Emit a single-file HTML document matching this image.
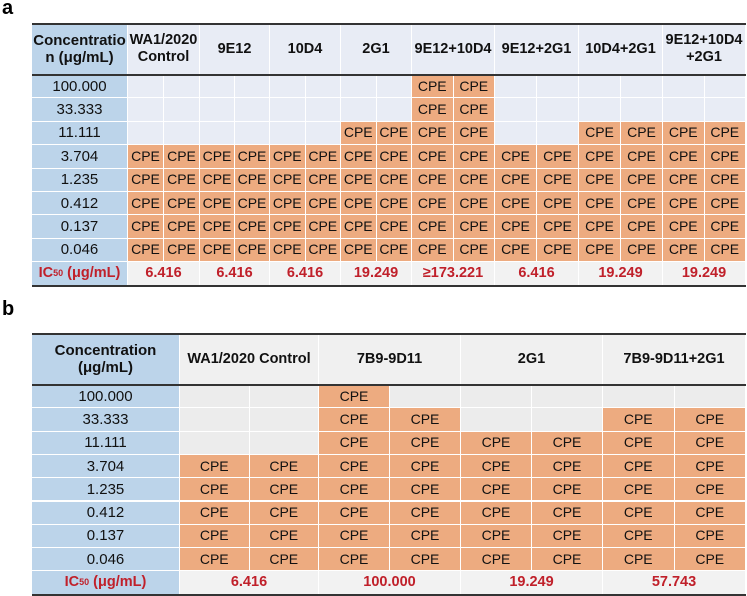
<!DOCTYPE html>
<html><head><meta charset="utf-8">
<style>
html,body{margin:0;padding:0;background:#fff;}
#root{position:relative;width:747px;height:596px;overflow:hidden;font-family:"Liberation Sans",Arial,sans-serif;}
.c{position:absolute;box-sizing:border-box;display:flex;align-items:center;justify-content:center;text-align:center;color:#111;font-size:14px;line-height:15px;}
.lbl{position:absolute;font-weight:bold;font-size:20px;color:#000;}
.ln{position:absolute;background:#333;}
</style></head>
<body>
<div id="root">
<div class="lbl" style="left:2px;top:-3px">a</div>
<div class="lbl" style="left:2px;top:298px">b</div>
</div>
<script>
const concentrations = ["100.000","33.333","11.111","3.704","1.235","0.412","0.137","0.046"];
const groupsA = ["WA1/2020<br>Control","9E12","10D4","2G1","9E12+10D4","9E12+2G1","10D4+2G1","9E12+10D4<br>+2G1"];
const cpeCountA = [[5,5],[5,5],[5,5],[6,6],[8,8],[5,5],[6,6],[6,6]];
const ic50A = ["6.416","6.416","6.416","19.249","≥173.221","6.416","19.249","19.249"];
const groupsB = ["WA1/2020 Control","7B9-9D11","2G1","7B9-9D11+2G1"];
const cpeCountB = [[5,5],[8,7],[6,6],[7,7]];
const ic50B = ["6.416","100.000","19.249","57.743"];

const root = document.getElementById('root');
function cell(x,y,w,h,bg,html,style,name){
  const d=document.createElement('div');
  d.className='c';
  d.style.left=x+'px';d.style.top=y+'px';d.style.width=w+'px';d.style.height=h+'px';
  d.style.background=bg;
  if(style) d.style.cssText+=style;
  d.innerHTML=html;
  
  
  root.appendChild(d);
  return d;
}
function line(x,y,w,h,name){
  const d=document.createElement('div');
  d.className='ln';
  d.style.left=x+'px';d.style.top=y+'px';d.style.width=w+'px';d.style.height=h+'px';
  
  
  root.appendChild(d);
}
function buildTable(cfg){
  const {groups,counts,ic50,colX,firstW,top,headH,rowH,emptyBg,headBg,headerLabel,prefix} = cfg;
  const x0=32, right=746;
  const B='border-right:1px solid #fff;border-bottom:1px solid #fff;';
  cell(x0,top,firstW,headH,'#bcd4ea',headerLabel,'font-weight:bold;font-size:15px;line-height:17px;'+B,prefix+'-header-concentration');
  groups.forEach((g,i)=>{
    cell(colX[i],top,colX[i+1]-colX[i],headH,headBg,g,'font-weight:bold;font-size:14.5px;line-height:17px;'+B,prefix+'-header-group');
  });
  const bodyTop=top+headH;
  concentrations.forEach((c,r)=>{
    const y=bodyTop+r*rowH;
    cell(x0,y,firstW,rowH,'#bcd4ea',c,'font-size:15px;'+B,prefix+'-conc-label');
    groups.forEach((g,i)=>{
      const gx=colX[i], gw=colX[i+1]-colX[i];
      const sub=[gw/2,gw/2];
      let xx=gx;
      for(let k=0;k<2;k++){
        const isCpe = r >= concentrations.length - counts[i][k];
        cell(xx,y,sub[k],rowH,isCpe?'#edab80':emptyBg,isCpe?'CPE':'',B,isCpe?prefix+'-cpe-cell':prefix+'-empty-cell');
        xx+=sub[k];
      }
    });
  });
  const icY=bodyTop+concentrations.length*rowH;
  cell(x0,icY,firstW,rowH,'#bcd4ea','IC<sub style="font-size:9px;vertical-align:-2px">50</sub>&nbsp;(μg/mL)','color:#c0202a;font-weight:bold;font-size:14.5px;'+B,prefix+'-ic50-label');
  ic50.forEach((v,i)=>{
    cell(colX[i],icY,colX[i+1]-colX[i],rowH,'#f2f2f2',v,'color:#c0202a;font-weight:bold;font-size:14.5px;'+B,prefix+'-ic50-value');
  });
  line(x0,top-1,right-x0,2,prefix+'-top-rule');
  line(x0,bodyTop-1,right-x0,2,prefix+'-header-rule');
  line(x0,icY+rowH-1,right-x0,2,prefix+'-bottom-rule');
}
buildTable({groups:groupsA,counts:cpeCountA,ic50:ic50A,
  colX:[128,200,270,341,412,495,579,663,746],firstW:96,top:24,headH:51,rowH:23.4,
  emptyBg:'#e8ecf5',headBg:'#e8ecf5',headerLabel:'Concentratio<br>n (μg/mL)',prefix:'table-a'});
buildTable({groups:groupsB,counts:cpeCountB,ic50:ic50B,
  colX:[180,319,461,603,746],firstW:148,top:334,headH:51,rowH:23.3,
  emptyBg:'#ececec',headBg:'#f0f0f0',headerLabel:'Concentration<br>(μg/mL)',prefix:'table-b'});
</script>
</body></html>
